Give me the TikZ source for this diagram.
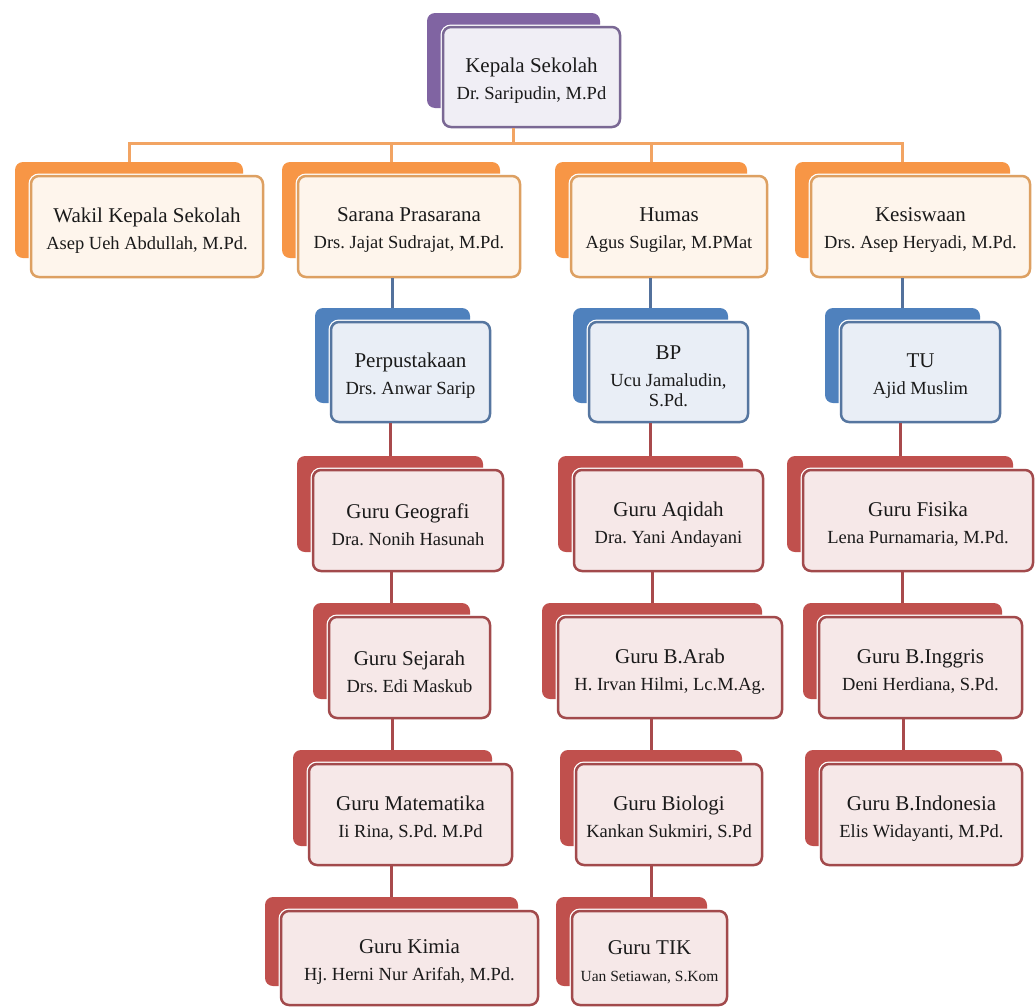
\documentclass[tikz,border=0pt]{standalone}
\usepackage{fontspec}
\setmainfont{Liberation Serif}
\frenchspacing
\definecolor{orangeback}{HTML}{F79646}
\definecolor{orangeline}{HTML}{DDA062}
\definecolor{orangefill}{HTML}{FEF5EC}
\definecolor{blueback}{HTML}{4F81BD}
\definecolor{blueline}{HTML}{5676A0}
\definecolor{bluefill}{HTML}{E9EEF6}
\definecolor{redback}{HTML}{C0504D}
\definecolor{redline}{HTML}{A24A4C}
\definecolor{redfill}{HTML}{F6E8E8}
\definecolor{purpleback}{HTML}{8064A2}
\definecolor{purpleline}{HTML}{7A6894}
\definecolor{purplefill}{HTML}{F0EEF5}
\definecolor{orangeconn}{HTML}{F2A463}
\definecolor{blueconn}{HTML}{53719C}
\definecolor{redconn}{HTML}{A84A4C}
\definecolor{txt}{HTML}{1A1A1A}
\tikzset{
  backbox/.style={draw=none, fill=#1back, rounded corners=8pt, inner sep=0pt},
  frontbox/.style={draw=#1line, fill=#1fill, line width=2.5pt, rounded corners=8pt,
    inner sep=0pt, preaction={draw=white, line width=5pt}},
  boxtext/.style={inner sep=0pt, align=center, text=txt,
    font=\fontsize{18.5}{27}\selectfont},
  conn/.style={draw=#1conn, line width=3pt},
}
\newcommand\ttl[1]{{\fontsize{21}{27}\selectfont #1}}
\newcommand\orgunit[7]{%
  \pgfmathsetmacro\bw{#5-#3}%
  \pgfmathsetmacro\fw{#5-#3+4}%
  \pgfmathsetmacro\fh{#6+5}%
  \node[backbox=#2, minimum width=\bw pt, minimum height=#6pt] (#1B) at ({(#3+#5)/2},{#4+#6/2}) {};
  \node[frontbox=#2, minimum width=\fw pt, minimum height=\fh pt] (#1) at ({(#3+#5)/2+18},{#4+#6/2+16.5}) {};
  \node[boxtext, yshift=-4pt] (#1T) at (#1.center) {#7};
}
\begin{document}
\begin{tikzpicture}[x=1pt,y=-1pt]
\useasboundingbox[fill=white] (0,0) rectangle (1035,1007);
% top
\orgunit{kep}{purple}{427}{13}{600}{95}{\ttl{Kepala Sekolah}\\Dr. Saripudin, M.Pd}
% row 1
\orgunit{wak}{orange}{15}{162}{243}{96}{\ttl{Wakil Kepala Sekolah}\\Asep Ueh Abdullah, M.Pd.}
\orgunit{sar}{orange}{282}{162}{500}{96}{\ttl{Sarana Prasarana}\\Drs. Jajat Sudrajat, M.Pd.}
\orgunit{hum}{orange}{555}{162}{747}{96}{\ttl{Humas}\\Agus Sugilar, M.PMat}
\orgunit{kes}{orange}{795}{162}{1010}{96}{\ttl{Kesiswaan}\\Drs. Asep Heryadi, M.Pd.}
% row 2
\orgunit{per}{blue}{315}{308}{470}{95}{\ttl{Perpustakaan}\\Drs. Anwar Sarip}
\orgunit{bp}{blue}{573}{308}{728}{95}{\ttl{BP}\\Ucu Jamaludin,\\[-7pt]S.Pd.}
\orgunit{tu}{blue}{825}{308}{980}{95}{\ttl{TU}\\Ajid Muslim}
% row 3
\orgunit{geo}{red}{297}{456}{483}{96}{\ttl{Guru Geografi}\\Dra. Nonih Hasunah}
\orgunit{aqi}{red}{558}{456}{743}{96}{\ttl{Guru Aqidah}\\Dra. Yani Andayani}
\orgunit{fis}{red}{787}{456}{1013}{96}{\ttl{Guru Fisika}\\Lena Purnamaria, M.Pd.}
% row 4
\orgunit{sej}{red}{313}{603}{470}{96}{\ttl{Guru Sejarah}\\Drs. Edi Maskub}
\orgunit{arb}{red}{542}{603}{762}{96}{\ttl{Guru B.Arab}\\H. Irvan Hilmi, Lc.M.Ag.}
\orgunit{ing}{red}{803}{603}{1002}{96}{\ttl{Guru B.Inggris}\\Deni Herdiana, S.Pd.}
% row 5
\orgunit{mat}{red}{293}{750}{492}{96}{\ttl{Guru Matematika}\\Ii Rina, S.Pd. M.Pd}
\orgunit{bio}{red}{560}{750}{742}{96}{\ttl{Guru Biologi}\\Kankan Sukmiri, S.Pd}
\orgunit{ind}{red}{805}{750}{1002}{96}{\ttl{Guru B.Indonesia}\\Elis Widayanti, M.Pd.}
% row 6
\orgunit{kim}{red}{265}{897}{518}{89}{\ttl{Guru Kimia}\\Hj. Herni Nur Arifah, M.Pd.}
\orgunit{tik}{red}{556}{897}{707}{89}{\ttl{Guru TIK}\\{\fontsize{15.5}{27}\selectfont Uan Setiawan, S.Kom}}
% bus
\coordinate (bus) at (0,143);
\draw[conn=orange] (kepB.south |- kep.south) -- (kepB.south |- bus);
\draw[conn=orange] (wakB.north) -- (wakB.north |- bus) -- (kesB.north |- bus) -- (kesB.north);
\draw[conn=orange] (sarB.north) -- (sarB.north |- bus);
\draw[conn=orange] (humB.north) -- (humB.north |- bus);
% blue connectors
\draw[conn=blue] (perB.north) -- (perB.north |- sar.south);
\draw[conn=blue] (bpB.north) -- (bpB.north |- hum.south);
\draw[conn=blue] (tuB.north) -- (tuB.north |- kes.south);
% red connectors
\draw[conn=red] (geoB.north) -- (geoB.north |- per.south);
\draw[conn=red] (sejB.north) -- (sejB.north |- geo.south);
\draw[conn=red] (matB.north) -- (matB.north |- sej.south);
\draw[conn=red] (kimB.north) -- (kimB.north |- mat.south);
\draw[conn=red] (aqiB.north) -- (aqiB.north |- bp.south);
\draw[conn=red] (arbB.north) -- (arbB.north |- aqi.south);
\draw[conn=red] (bioB.north) -- (bioB.north |- arb.south);
\draw[conn=red] (bioB.south |- bio.south) -- (bioB.south |- tikB.north);
\draw[conn=red] (fisB.north) -- (fisB.north |- tu.south);
\draw[conn=red] (ingB.north) -- (ingB.north |- fis.south);
\draw[conn=red] (indB.north) -- (indB.north |- ing.south);
\end{tikzpicture}
\end{document}
